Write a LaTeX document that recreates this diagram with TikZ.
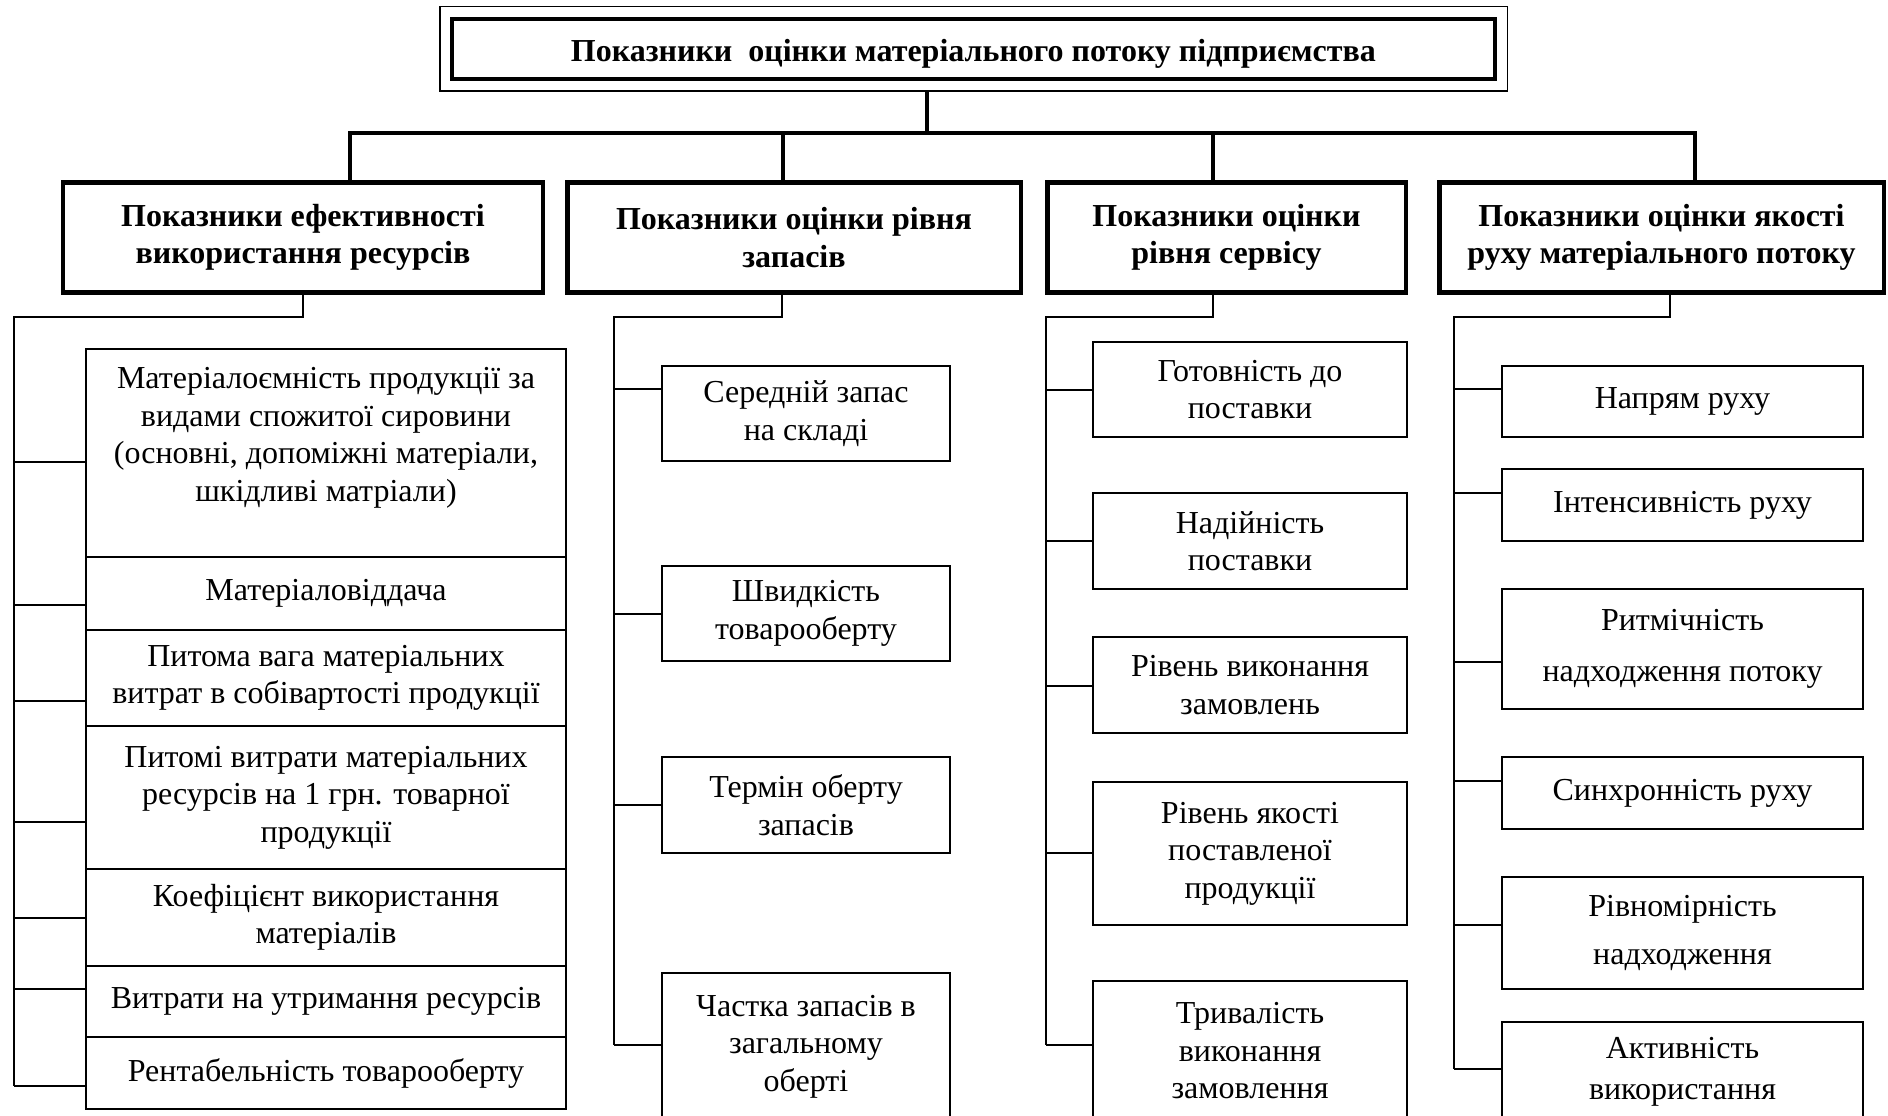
\documentclass[tikz,border=0pt]{standalone}
\usepackage{fontspec}
\setmainfont{Liberation Serif}
\tikzset{
  hdr/.style={draw, line width=4.5pt, inner sep=0pt, align=center, font=\fontsize{32}{37.5}\selectfont\bfseries},
  item/.style={draw, line width=2pt, inner sep=0pt, align=center, font=\fontsize{32}{37.5}\selectfont},
  link/.style={line width=2pt},
  bus/.style={line width=3.5pt}
}
\begin{document}
\begin{tikzpicture}[x=1pt,y=-1pt]
  \useasboundingbox (0,0) rectangle (1888,1116);
  \clip (0,0) rectangle (1888,1116);
  \node[hdr, minimum width=1043, minimum height=60] (top) at (973.5,49) {\raisebox{-4.5pt}[\height][\depth]{Показники~ оцінки матеріального потоку підприємства}};
  \draw[line width=1.5pt] ([shift={(-10pt,10pt)}]top.north west) rectangle ([shift={(10pt,-10pt)}]top.south east);

  \node[hdr, minimum width=480, minimum height=110] (h1) at (303,237.5) {Показники ефективності\\використання ресурсів};
  \node[hdr, minimum width=453.5, minimum height=110] (h2) at (794,237.5) {Показники оцінки рівня\\запасів};
  \node[hdr, minimum width=358.5, minimum height=110] (h3) at (1226.5,237.5) {Показники оцінки\\рівня сервісу};
  \node[hdr, minimum width=444.5, minimum height=110] (h4) at (1661.5,237.5) {Показники оцінки якості\\руху матеріального потоку};

  \coordinate (bar) at (927,133);
  \draw[bus] ([yshift=-10pt]bar |- top.south) -- (bar);
  \draw[bus] ([xshift=47pt]h1.north) |- (bar) -| ([xshift=33.5pt]h4.north);
  \draw[bus] ([xshift=-11pt]h2.north) -- ([xshift=-11pt]h2.north |- bar);
  \draw[bus] ([xshift=-13.5pt]h3.north) -- ([xshift=-13.5pt]h3.north |- bar);

  \node[item, minimum width=480, minimum height=208] (e1) at (326,453) {Матеріалоємність продукції за\\видами спожитої сировини\\(основні, допоміжні матеріали,\\шкідливі матріали)\\\mbox{}};
  \node[item, minimum width=480, minimum height=73] (e2) at (326,593.5) {Матеріаловіддача};
  \node[item, minimum width=480, minimum height=96] (e3) at (326,678) {Питома вага матеріальних\\витрат в собівартості продукції};
  \node[item, minimum width=480, minimum height=143] (e4) at (326,797.5) {Питомі витрати матеріальних\\ресурсів на 1 грн. товарної\\продукції};
  \node[item, minimum width=480, minimum height=97] (e5) at (326,917.5) {Коефіцієнт використання\\матеріалів};
  \node[item, minimum width=480, minimum height=71] (e6) at (326,1001.5) {Витрати на утримання ресурсів};
  \node[item, minimum width=480, minimum height=72] (e7) at (326,1073) {Рентабельність товарооберту};
  \coordinate (t1) at (14,317);
  \coordinate (t1e) at (14,1086);
  \draw[link] (h1.south) |- (t1) -- (t1e);
  \foreach \n/\s in {e1/-9pt,e2/-11.5pt,e3/-23pt,e4/-24.5pt,e5/0pt,e6/12.5pt,e7/-13pt}
    \draw[link] ([yshift=\s]\n.west) -- ([yshift=\s]\n.west -| t1);

  \node[item, minimum width=288, minimum height=95] (s1) at (806,413.5) {Середній запас\\на складі};
  \node[item, minimum width=288, minimum height=95] (s2) at (806,613.5) {Швидкість\\товарооберту};
  \node[item, minimum width=288, minimum height=96] (s3) at (806,805) {Термін оберту\\запасів};
  \node[item, minimum width=288, minimum height=147] (s4) at (806,1046.5) {Частка запасів в\\загальному\\оберті};
  \coordinate (t2) at (614,317);
  \coordinate (t2e) at (614,1045);
  \draw[link] ([xshift=-12pt]h2.south) |- (t2) -- (t2e);
  \foreach \n/\s in {s1/24.5pt,s2/0pt,s3/0pt,s4/1.5pt}
    \draw[link] ([yshift=\s]\n.west) -- ([yshift=\s]\n.west -| t2);

  \node[item, minimum width=314, minimum height=95] (v1) at (1250,389.5) {Готовність до\\поставки};
  \node[item, minimum width=314, minimum height=96] (v2) at (1250,541) {Надійність\\поставки};
  \node[item, minimum width=314, minimum height=96] (v3) at (1250,685) {Рівень виконання\\замовлень};
  \node[item, minimum width=314, minimum height=143] (v4) at (1250,853.5) {Рівень якості\\поставленої\\продукції};
  \node[item, minimum width=314, minimum height=140] (v5) at (1250,1051) {Тривалість\\виконання\\замовлення};
  \coordinate (t3) at (1046,317);
  \coordinate (t3e) at (1046,1045);
  \draw[link] ([xshift=-13.5pt]h3.south) |- (t3) -- (t3e);
  \foreach \n/\s in {v1/0pt,v2/0pt,v3/-1pt,v4/0.5pt,v5/6pt}
    \draw[link] ([yshift=\s]\n.west) -- ([yshift=\s]\n.west -| t3);

  \node[item, minimum width=361, minimum height=71] (q1) at (1682.5,401.5) {Напрям руху};
  \node[item, minimum width=361, minimum height=72] (q2) at (1682.5,505) {Інтенсивність руху};
  \node[item, minimum width=361, minimum height=120] (q3) at (1682.5,649) {Ритмічність\\[13pt]надходження потоку};
  \node[item, minimum width=361, minimum height=72] (q4) at (1682.5,793) {Синхронність руху};
  \node[item, minimum width=361, minimum height=112] (q5) at (1682.5,933) {Рівномірність\\[10pt]надходження};
  \node[item, minimum width=361, minimum height=100] (q6) at (1682.5,1072) {Активність\\[3pt]використання};
  \coordinate (t4) at (1454,317);
  \coordinate (t4e) at (1454,1069);
  \draw[link] ([xshift=8.5pt]h4.south) |- (t4) -- (t4e);
  \foreach \n/\s in {q1/12.5pt,q2/12pt,q3/-13pt,q4/12pt,q5/8pt,q6/3pt}
    \draw[link] ([yshift=\s]\n.west) -- ([yshift=\s]\n.west -| t4);
\end{tikzpicture}
\end{document}
